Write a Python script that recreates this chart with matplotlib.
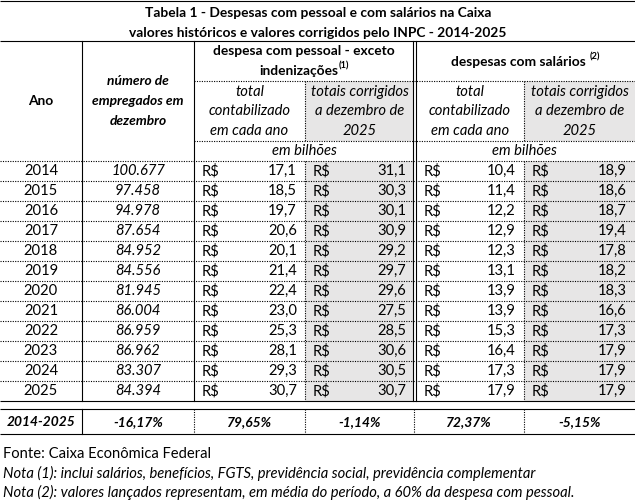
import matplotlib.pyplot as plt
from matplotlib.patches import Rectangle

plt.rcParams['font.family'] = ['Lato', 'DejaVu Sans']

# dados da tabela
anos = [2014, 2015, 2016, 2017, 2018, 2019, 2020, 2021, 2022, 2023, 2024, 2025]
empregados = [100677, 97458, 94978, 87654, 84952, 84556, 81945, 86004, 86959, 86962, 83307, 84394]
pessoal_total = [17.1, 18.5, 19.7, 20.6, 20.1, 21.4, 22.4, 23.0, 25.3, 28.1, 29.3, 30.7]
pessoal_corrigido = [31.1, 30.3, 30.1, 30.9, 29.2, 29.7, 29.6, 27.5, 28.5, 30.6, 30.5, 30.7]
salarios_total = [10.4, 11.4, 12.2, 12.9, 12.3, 13.1, 13.9, 13.9, 15.3, 16.4, 17.3, 17.9]
salarios_corrigido = [18.9, 18.6, 18.7, 19.4, 17.8, 18.2, 18.3, 16.6, 17.3, 17.9, 17.9, 17.9]
periodo = "2014-2025"
variacao = [-16.17, 79.65, -1.14, 72.37, -5.15]

titulo = ["Tabela 1 - Despesas com pessoal e com salários na Caixa",
          "valores históricos e valores corrigidos pelo INPC - 2014-2025"]
notas = ["Fonte: Caixa Econômica Federal",
         "Nota (1): inclui salários, benefícios, FGTS, previdência social, previdência complementar",
         "Nota (2): valores lançados representam, em média do período, a 60% da despesa com pessoal."]


def br(v, dec=1):
    return "{:.{}f}".format(v, dec).replace(".", ",")


def milhar(v):
    return "{:,}".format(v).replace(",", ".")


W, H = 635, 503
fig = plt.figure(figsize=(W / 100, H / 100), dpi=100)
ax = fig.add_axes([0, 0, 1, 1])
ax.set_xlim(0, W)
ax.set_ylim(H, 0)
ax.axis('off')

FS = 10.6     # texto normal / itálico
FB = 9.9      # texto em negrito (Lato Bold é mais largo)
GRAY = '#e7e6e6'
LW = 0.8
DOT = (0, (1, 1.2))

# grade
cols = [0, 82, 194, 305, 414, 524, 635]
y_top, y_head, y_sub, y_bil, y_dat = 1, 40.5, 80.5, 140.5, 160.7
rh = 20
y_end = y_dat + rh * len(anos)
y_sum0, y_sum1 = y_end + 8.5, y_end + 33.5

# fundos cinza
for c in (3, 5):
    ax.add_patch(Rectangle((cols[c], y_sub), cols[c + 1] - cols[c], y_bil - y_sub,
                           color=GRAY, lw=0, zorder=0))
    ax.add_patch(Rectangle((cols[c], y_dat), cols[c + 1] - cols[c], y_end - y_dat,
                           color=GRAY, lw=0, zorder=0))

# linhas horizontais
for y in (y_top, y_head, y_end, y_sum0, y_sum1):
    ax.plot([0, W], [y, y], color='black', lw=LW, solid_capstyle='butt')
for y in (y_sub, y_bil):
    ax.plot([cols[2], W], [y, y], color='black', lw=LW, ls=DOT)
for i in range(len(anos)):
    ax.plot([0, W], [y_dat + i * rh] * 2, color='black', lw=LW, ls=DOT)

# linhas verticais
for x in (cols[1], cols[2]):
    ax.plot([x, x], [y_head, y_end], color='black', lw=LW)
for x in (cols[4] - 1, cols[4] + 1.5):
    ax.plot([x, x], [y_head, y_end], color='black', lw=LW)
for x in (cols[3], cols[5]):
    ax.plot([x, x], [y_sub, y_bil], color='black', lw=LW, ls=DOT)
    ax.plot([x, x], [y_dat, y_end], color='black', lw=LW, ls=DOT)
ax.plot([cols[1]] * 2, [y_sum0, y_sum1], color='black', lw=LW)
for x in cols[2:6]:
    ax.plot([x, x], [y_sum0, y_sum1], color='black', lw=LW, ls=DOT)

# título
ax.text(318, 13, titulo[0], ha='center', va='center', fontsize=FB, fontweight='bold')
ax.text(318, 32.5, titulo[1], ha='center', va='center', fontsize=FB, fontweight='bold')

fig.canvas.draw()
rend = fig.canvas.get_renderer()


def com_sobrescrito(cx, y, txt, sup, gap=0):
    t = ax.text(0, y, txt, ha='left', va='center', fontsize=FB, fontweight='bold')
    s = ax.text(0, y - 5, sup, ha='left', va='center', fontsize=FS * 0.62, fontweight='bold')
    wt = t.get_window_extent(rend).width
    ws = s.get_window_extent(rend).width
    x0 = cx - (wt + gap + ws) / 2
    t.set_x(x0)
    s.set_x(x0 + wt + gap)


# cabeçalho
ax.text(41, 101, "Ano", ha='center', va='center', fontsize=FB, fontweight='bold')
for k, linha in enumerate(["número de", "empregados em", "dezembro"]):
    ax.text(138, 81 + 19.8 * k, linha, ha='center', va='center', fontsize=FB,
            fontweight='bold', style='italic')
ax.text((cols[2] + cols[4]) / 2, 51, "despesa com pessoal - exceto", ha='center',
        va='center', fontsize=FB, fontweight='bold')
com_sobrescrito((cols[2] + cols[4]) / 2, 71, "indenizações", "(1)")
com_sobrescrito((cols[4] + cols[6]) / 2 + 1, 61.5, "despesas com salários", "(2)", gap=4)

sub_total = ["total", "contabilizado", "em cada ano"]
sub_corr = ["totais corrigidos", "a dezembro de", "2025"]
for c, linhas in ((2, sub_total), (3, sub_corr), (4, sub_total), (5, sub_corr)):
    cx = (cols[c] + cols[c + 1]) / 2 + (1 if c == 4 else 0)
    for k, linha in enumerate(linhas):
        ax.text(cx, 91.5 + 19.8 * k, linha, ha='center', va='center', fontsize=FS,
                style='italic')
for a, b in ((2, 4), (4, 6)):
    ax.text((cols[a] + cols[b]) / 2, 151, "em bilhões", ha='center', va='center',
            fontsize=FS, style='italic')

# dados
series = [pessoal_total, pessoal_corrigido, salarios_total, salarios_corrigido]
for i, ano in enumerate(anos):
    yc = y_dat + rh * i + rh / 2 + 0.5
    ax.text(41, yc, str(ano), ha='center', va='center', fontsize=FS)
    ax.text(138, yc, milhar(empregados[i]), ha='center', va='center', fontsize=FS,
            style='italic')
    for j, s in enumerate(series):
        c = 2 + j
        x0 = cols[c] + (10 if c == 4 else 8)
        ax.text(x0, yc, "R$", ha='left', va='center', fontsize=FS)
        ax.text(cols[c + 1] - 8, yc, br(s[i]), ha='right', va='center', fontsize=FS)

# linha de variação
ys = (y_sum0 + y_sum1) / 2 + 0.5
ax.text(41, ys, periodo, ha='center', va='center', fontsize=FB, fontweight='bold',
        style='italic')
centros = [138] + [(cols[c] + cols[c + 1]) / 2 for c in range(2, 6)]
for cx, v in zip(centros, variacao):
    ax.text(cx, ys, br(v, 2) + "%", ha='center', va='center', fontsize=FB,
            fontweight='bold', style='italic')

# notas
for k, n in enumerate(notas):
    ax.text(3, 454 + 19.3 * k, n, ha='left', va='center', fontsize=FS,
            style='normal' if k == 0 else 'italic')

fig.savefig('out.png', dpi=100)
